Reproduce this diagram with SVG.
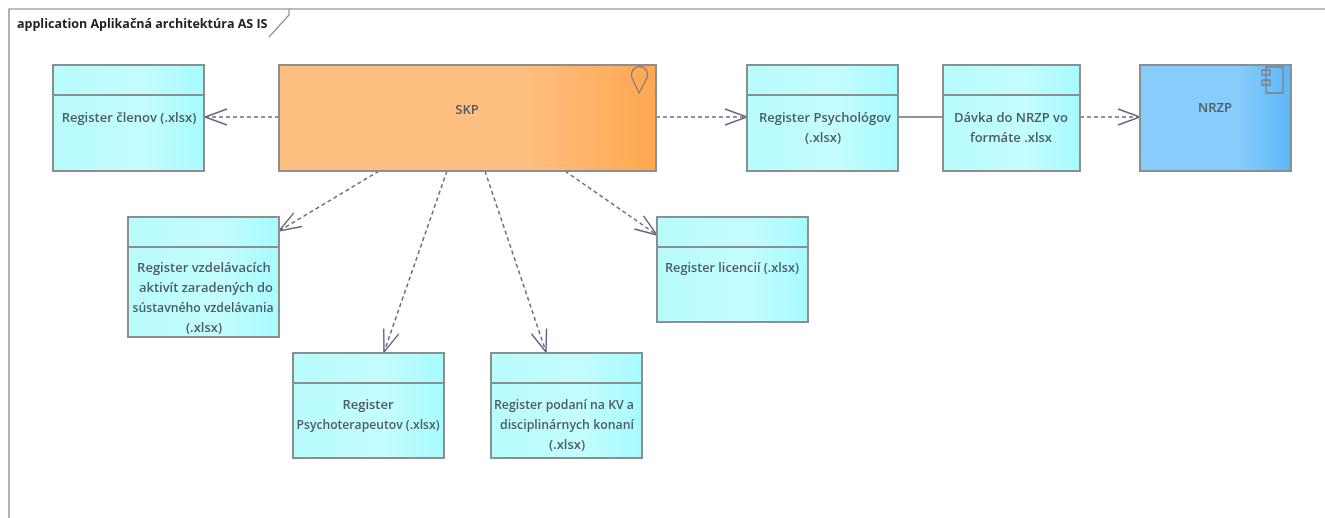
<svg xmlns="http://www.w3.org/2000/svg" width="1325" height="518" viewBox="0 0 1325 518">
<style>
.b{stroke:#8c8f90;stroke-width:2}
.r{fill:url(#cy)}
.d{stroke:#8c8f90;stroke-width:2;fill:none}
text{font-family:"Open Sans","Liberation Sans",sans-serif;font-size:13px;font-weight:600;fill:#4d5c62;text-anchor:middle}
.t{font-size:12.5px;font-weight:700;fill:#222;text-anchor:start}
.c{fill:none;stroke:#6a6c85;stroke-width:1.5}
.ds{stroke-dasharray:4 3}
.ic{fill:none;stroke:#7d7f80;stroke-width:1.3}
</style>
<defs>
<linearGradient id="cy" x1="0" x2="1" y1="0" y2="0"><stop offset="0" stop-color="#b8fcfe"/><stop offset=".6" stop-color="#c4fdff"/><stop offset="1" stop-color="#a6fbff"/></linearGradient>
<linearGradient id="or" x1="0" x2="1" y1="0" y2="0"><stop offset="0" stop-color="#ffbf80"/><stop offset=".65" stop-color="#ffbf80"/><stop offset="1" stop-color="#ffa750"/></linearGradient>
<linearGradient id="bl" x1="0" x2="1" y1="0" y2="0"><stop offset="0" stop-color="#86cdfb"/><stop offset=".65" stop-color="#86cdfb"/><stop offset="1" stop-color="#5eb7f8"/></linearGradient>
<marker id="v" markerUnits="userSpaceOnUse" markerWidth="26" markerHeight="22" refX="24" refY="11" orient="auto"><path d="M2 3L24 11L2 19" fill="none" stroke="#62647f" stroke-width="1.4"/></marker>
<filter id="s" x="-2%" y="-2%" width="104%" height="104%"><feGaussianBlur stdDeviation="0.55"/></filter>
</defs>
<rect width="1325" height="518" fill="#fff"/>
<g filter="url(#s)">
<g id="frame"><path d="M9 518V9H1325" fill="none" stroke="#7f7f7f" stroke-width="1.2"/><path d="M289 9V15L269 37" fill="none" stroke="#8f8f8f" stroke-width="1.2"/><text class="t" x="17" y="28">application Aplikačná architektúra AS IS</text></g>
<g id="connectors">
<path class="c ds" d="M279 117H205" marker-end="url(#v)"/>
<path class="c ds" d="M379 171L279 231" marker-end="url(#v)"/>
<path class="c ds" d="M447 171L384 352" marker-end="url(#v)"/>
<path class="c ds" d="M485 171L546 352" marker-end="url(#v)"/>
<path class="c ds" d="M565 171L657 235" marker-end="url(#v)"/>
<path class="c ds" d="M656 117H747" marker-end="url(#v)"/>
<path class="c" d="M898 117H943"/>
<path class="c ds" d="M1080 117H1140" marker-end="url(#v)"/>
</g>
<g id="n1"><rect class="b r" x="53" y="65" width="151" height="106"/><path class="d" d="M53 95H204"/><text x="129" y="122">Register členov (.xlsx)</text></g>
<g id="skp"><rect class="b" fill="url(#or)" x="279" y="65" width="377" height="106"/><path class="ic" d="M639 93L632 78A8 8.500 0 1 1 647 78Z"/><text x="467" y="114">SKP</text></g>
<g id="n2"><rect class="b r" x="747" y="65" width="151" height="106"/><path class="d" d="M747 95H898"/><text x="825" y="122">Register Psychológov</text><text x="823" y="142">(.xlsx)</text></g>
<g id="n3"><rect class="b r" x="943" y="65" width="137" height="106"/><path class="d" d="M943 95H1080"/><text x="1011" y="122">Dávka do NRZP vo</text><text x="1011" y="142">formáte .xlsx</text></g>
<g id="nrzp"><rect class="b" fill="url(#bl)" x="1140" y="65" width="151" height="106"/><path class="ic" d="M1266 67H1283V93H1266ZM1262 70H1270V75H1262ZM1262 80H1270V85H1262Z"/><text x="1215" y="112">NRZP</text></g>
<g id="n4"><rect class="b r" x="128" y="217" width="151" height="120"/><path class="d" d="M128 247H279"/><text x="204" y="272">Register vzdelávacích</text><text x="206" y="292" textLength="134" lengthAdjust="spacingAndGlyphs">aktivít zaradených do</text><text x="203" y="312" textLength="141" lengthAdjust="spacingAndGlyphs">sústavného vzdelávania</text><text x="204" y="332">(.xlsx)</text></g>
<g id="n5"><rect class="b r" x="293" y="353" width="151" height="105"/><path class="d" d="M293 383H444"/><text x="368" y="409">Register</text><text x="368" y="429" textLength="143" lengthAdjust="spacingAndGlyphs">Psychoterapeutov (.xlsx)</text></g>
<g id="n6"><rect class="b r" x="491" y="353" width="151" height="105"/><path class="d" d="M491 383H642"/><text x="564" y="409" textLength="140" lengthAdjust="spacingAndGlyphs">Register podaní na KV a</text><text x="567" y="429" textLength="134" lengthAdjust="spacingAndGlyphs">disciplinárnych konaní</text><text x="567" y="449">(.xlsx)</text></g>
<g id="n7"><rect class="b r" x="657" y="217" width="151" height="105"/><path class="d" d="M657 247H808"/><text x="732" y="272" textLength="134" lengthAdjust="spacingAndGlyphs">Register licencií (.xlsx)</text></g>
</g>
</svg>
